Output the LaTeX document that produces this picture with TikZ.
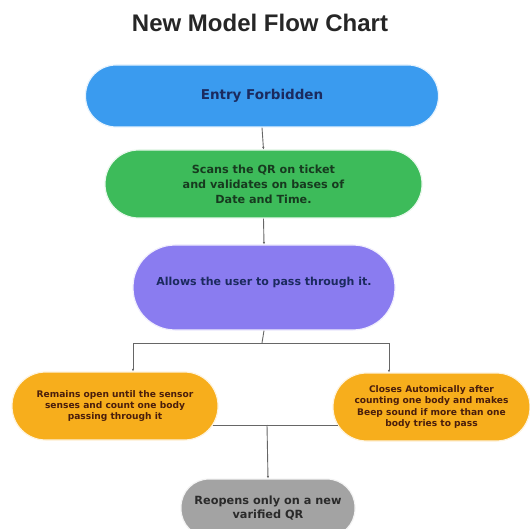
\documentclass[tikz,border=0pt]{standalone}
\usepackage{fontspec}
\setmainfont{DejaVu Sans}
\newfontfamily\titlefont{Liberation Sans}
\usetikzlibrary{arrows.meta}
\definecolor{cblue}{HTML}{3A9BEF}
\definecolor{cgreen}{HTML}{3DBB5A}
\definecolor{cpurple}{HTML}{8A7CF0}
\definecolor{corange}{HTML}{F7AE1C}
\definecolor{cgray}{HTML}{A3A3A3}
\definecolor{tnavy}{HTML}{1B2A5E}
\definecolor{tgreen}{HTML}{173A1F}
\definecolor{tbrown}{HTML}{4A1E0C}
\definecolor{tgray}{HTML}{2A2A2A}
\definecolor{cline}{HTML}{666666}
\begin{document}
\begin{tikzpicture}[x=1pt,y=1pt,
  pill/.style={align=center, font=\bfseries, inner sep=0pt, line width=1.2pt},
  conn/.style={draw=cline, line width=0.9pt},
  arr/.style={conn, -{Latex[length=2.5pt,width=2.5pt]}}]
\useasboundingbox (0,0) rectangle (530,-529);
\node[font=\titlefont\bfseries\fontsize{24}{28}\selectfont, text=black!85] (title) at (260,-23) {New Model Flow Chart};

\node[pill, fill=cblue, draw=cblue!12, minimum width=353pt, minimum height=62pt, rounded corners=30.5pt, text=tnavy, font=\bfseries\fontsize{13.5}{16}\selectfont] (entry) at (262,-96) {Entry Forbidden};

\node[pill, fill=cgreen, draw=cgreen!12, minimum width=317pt, minimum height=68pt, rounded corners=33.5pt, text=tgreen, font=\bfseries\fontsize{11.2}{15}\selectfont] (scan) at (263.5,-184) {Scans the QR on ticket\\and validates on bases of\\Date and Time.};

\node[pill, fill=cpurple, draw=cpurple!12, minimum width=262pt, minimum height=85pt, rounded corners=42pt] (allow) at (264,-287.5) {};
\node[text=tnavy, font=\bfseries\fontsize{11}{14}\selectfont, inner sep=0pt] (allowt) at (264,-283) {Allows the user to pass through it.};

\node[pill, fill=corange, draw=corange!15, minimum width=206pt, minimum height=68pt, rounded corners=33.5pt, text=tbrown, font=\bfseries\fontsize{9.1}{11.3}\selectfont] (left) at (115,-406) {Remains open until the sensor\\senses and count one body\\passing through it};

\node[pill, fill=corange, draw=corange!15, minimum width=197pt, minimum height=68pt, rounded corners=33.5pt, text=tbrown, font=\bfseries\fontsize{9.1}{11.6}\selectfont] (right) at (431.5,-407) {Closes Automically after\\counting one body and makes\\Beep sound if more than one\\body tries to pass};

\node[pill, fill=cgray, draw=cgray!12, minimum width=174pt, minimum height=58pt, rounded corners=28pt, text=tgray, font=\bfseries\fontsize{11.3}{13.5}\selectfont] (reopen) at (268,-508) {Reopens only on a new\\varified QR};

\coordinate (split) at (262,-343);
\coordinate (splitL) at (133,-343);
\coordinate (splitR) at (389,-343);
\coordinate (join) at (267,-425);

\draw[arr] (entry.south) -- (scan.north);
\draw[arr] (scan.south) -- (allow.north);
\draw[conn] (allow.south) -- (split);
\draw[conn] (splitL) -- (splitR);
\draw[arr] (splitL) -- (splitL |- left.north);
\draw[arr] (splitR) -- (splitR |- right.north);
\draw[conn] ([xshift=-6pt]left.east |- join) -- ([xshift=6pt]right.west |- join);
\draw[arr] (join) -- (reopen.north);
\end{tikzpicture}
\end{document}
